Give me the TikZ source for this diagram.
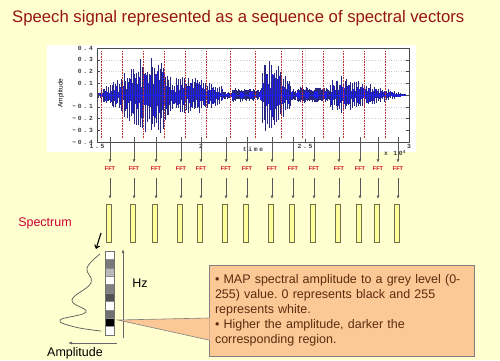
\documentclass[tikz,border=0pt]{standalone}
\usepackage{fontspec}
\setmainfont{Liberation Sans}
\newfontfamily\tickfont[LetterSpace=28]{Liberation Mono}
\usetikzlibrary{arrows.meta, positioning, calc}
\definecolor{bgyellow}{RGB}{255,255,208}
\definecolor{titlered}{RGB}{150,20,20}
\definecolor{specred}{RGB}{204,0,51}
\definecolor{fftred}{RGB}{215,0,25}
\definecolor{barfill}{RGB}{255,255,153}
\definecolor{bardraw}{RGB}{110,110,80}
\definecolor{notefill}{RGB}{252,200,150}
\definecolor{notetext}{RGB}{90,45,15}
\definecolor{wavenavy}{RGB}{40,40,130}
\definecolor{waveblue}{RGB}{30,30,245}
\definecolor{framered}{RGB}{205,50,50}
\tikzset{
  fftlabel/.style={font=\bfseries\fontsize{5.5}{6}\selectfont, text=fftred, inner sep=1pt},
  specbar/.style={rectangle, draw=bardraw, fill=barfill, minimum width=5pt,
    minimum height=38pt, inner sep=0pt, line width=0.6pt},
  fftarrow/.style={-{Latex[length=3pt,width=3pt]}, draw=black!65, line width=0.5pt},
  greycell/.style={rectangle, draw=black!45, minimum width=9pt, minimum height=8.4pt,
    inner sep=0pt, line width=0.4pt},
  axarrow/.style={-{Latex[length=4pt,width=3pt]}, draw=black!60, line width=0.6pt},
  handarrow/.style={-{Straight Barb[length=3pt,width=5pt]}, line width=1.1pt, black},
  ticklabel/.style={font=\tickfont\bfseries\fontsize{6.3}{7}\selectfont, text=black!75, inner sep=1pt},
  frameline/.style={framered, densely dotted, line width=0.6pt},
  gridline/.style={black!18, dotted, line width=0.3pt},
  notebox/.style={rectangle, draw=black!50, fill=notefill, line width=0.6pt,
    minimum width=265pt, minimum height=91pt, text width=253pt, inner sep=6pt,
    align=left, font=\frenchspacing\fontsize{12.5}{15}\selectfont, text=notetext},
  label/.style={inner sep=1pt}
}

\begin{document}
\begin{tikzpicture}[x=1pt, y=-1pt]
  \useasboundingbox (0,0) rectangle (500,360);
  \fill[bgyellow] (0,0) rectangle (500,360);

  % title
  \node[label, anchor=west, text=titlered, font=\fontsize{16.7}{19}\selectfont] (title) at (11,18)
    {Speech signal represented as a sequence of spectral vectors};

  % waveform panel
  \fill[white] (47,45) rectangle (416,152);
  \foreach \v in {0.3,0.2,...,-0.3}
    \draw[gridline] (97,{95-\v*117.5}) -- (409,{95-\v*117.5});
  \foreach \x in {201,305}
    \draw[gridline] (\x,48) -- (\x,142);

  \pgfmathsetseed{12}
  \begin{scope}
    \clip (97,48) rectangle (409,142);
    \foreach \xa/\xb/\ampa/\ampb/\stp in {97/101/0.02/0.04/1.4, 101/122/0.06/0.15/1.8,
        122/140/0.19/0.29/1.8, 140/165/0.31/0.33/1.8, 165/176/0.22/0.1/1.8,
        176/195/0.15/0.17/2.0, 195/222/0.17/0.08/2.0, 222/232/0.04/0.02/1.2,
        232/255/0.06/0.05/0.9, 255/262/0.03/0.08/1.2, 262/278/0.31/0.28/1.8,
        278/292/0.25/0.1/1.8, 292/297/0.05/0.05/1.2, 297/330/0.07/0.06/0.9,
        330/346/0.13/0.18/1.9, 346/404/0.15/0.01/2.0}{
      \pgfmathsetmacro{\xc}{\xa+\stp}
      \foreach \x in {\xa,\xc,...,\xb}{
        \pgfmathsetmacro{\amp}{(\ampa+(\ampb-\ampa)*(\x-\xa)/(\xb-\xa))*117.5}
        \pgfmathsetmacro{\wup}{\amp*(0.55+0.45*rnd)}
        \pgfmathsetmacro{\wdn}{\amp*(0.55+0.45*rnd)}
        \draw[wavenavy, line width=0.3pt] (\x,95-\wup) -- (\x,95+\wdn);
        \pgfmathsetmacro{\wup}{\amp*(0.2+0.45*rnd)}
        \pgfmathsetmacro{\wdn}{\amp*(0.2+0.45*rnd)}
        \draw[waveblue, line width=0.3pt] (\x+\stp/2,95-\wup) -- (\x+\stp/2,95+\wdn);
      }
    }
    \draw[waveblue, line width=0.3pt] (97,95) -- (404,95);
  \end{scope}

  \foreach \x in {101,122,143,164,185,206,230,255,281,302,323,343,364,385}
    \draw[frameline] (\x,51) -- (\x,139);

  % axes
  \draw[black!70, line width=0.5pt] (97,48) rectangle (409,142);
  \foreach \v/\t in {0.4/0.4, 0.3/0.3, 0.2/0.2, 0.1/0.1, 0/0, -0.1/−0.1, -0.2/−0.2, -0.3/−0.3, -0.4/−0.4}{
    \node[ticklabel, anchor=east] (ytick) at (94,{95-\v*117.5}) {\t};
    \draw[black!70, line width=0.4pt] (97,{95-\v*117.5}) -- ++(3,0);
    \draw[black!70, line width=0.4pt] (409,{95-\v*117.5}) -- ++(-3,0);
  }
  \foreach \x/\t in {97/1.5, 201/2, 305/2.5, 409/3}{
    \node[ticklabel] (xtick) at (\x,146.5) {\t};
    \draw[black!70, line width=0.4pt] (\x,142) -- ++(0,-3);
  }
  \node[ticklabel] (timelabel) at (253,149.5) {time};
  \node[ticklabel] (scalelabel) at (395,153) {x 10\textsuperscript{4}};
  \node[label, rotate=90, font=\fontsize{6.5}{7}\selectfont] (amplabel) at (61,93) {Amplitude};

  % FFT per frame
  \foreach \x [count=\i] in {110,134,156,181,201,226,247,272,293,314,339,360,378,398}{
    \coordinate (top\i) at (\x,137);
    \node[fftlabel] (fft\i) at (\x,169) {FFT};
    \node[specbar] (spec\i) at (\x-1,223) {};
    \draw[fftarrow, shorten >=3.5pt] (top\i) -- (fft\i);
    \draw[fftarrow, shorten <=6pt, shorten >=5pt] (fft\i) -- (fft\i |- spec\i.north);
  }
  \node[label, text=specred, font=\fontsize{12.5}{14}\selectfont] (spectrum) at (45,223) {Spectrum};

  % grey level vector
  \foreach \g [count=\i] in {white, black!52, black!28, white, black!50, black!68, white, black!56, black, white}
    \node[greycell, fill=\g] (cell\i) at (109.5,{246.8+8.4*\i}) {};
  \draw[black!55, line width=0.5pt] (cell1.north west) rectangle (cell10.south east);

  \coordinate (handstart) at (101,233);
  \coordinate (handend) at (96,249);
  \draw[handarrow] (handstart) -- (handend);

  \coordinate (hzlow) at (123,338);
  \coordinate (hzhigh) at (123,249);
  \draw[axarrow] (hzlow) -- (hzhigh);
  \node[label, font=\fontsize{12.5}{14}\selectfont] (hz) at (140,283) {Hz};

  \coordinate (amphigh) at (117,343);
  \coordinate (amplow) at (68,343);
  \draw[axarrow] (amphigh) -- (amplow);
  \node[label, font=\fontsize{12.5}{14}\selectfont] (amplitude) at (75,353) {Amplitude};

  \draw[black!65, line width=0.7pt] plot[smooth, tension=0.7] coordinates
    {(100,254) (87,268) (91,283) (72,300) (86,312) (60,320) (75,327) (101,331)};

  % callout
  \node[notebox] (note) at (341.5,310.5)
    {• MAP spectral amplitude to a grey level (0-\\
     255) value. 0 represents black and 255\\
     represents white.\\
     • Higher the amplitude, darker the\\
     corresponding region.};
  \coordinate (tip) at (118,320);
  \fill[notefill] (tip) -- ($(note.west)+(0.8,7.5)$) -- ($(note.west)+(0.8,29.5)$) -- cycle;
  \draw[black!50, line width=0.6pt] ($(note.west)+(0,7.5)$) -- (tip) -- ($(note.west)+(0,29.5)$);
\end{tikzpicture}
\end{document}
